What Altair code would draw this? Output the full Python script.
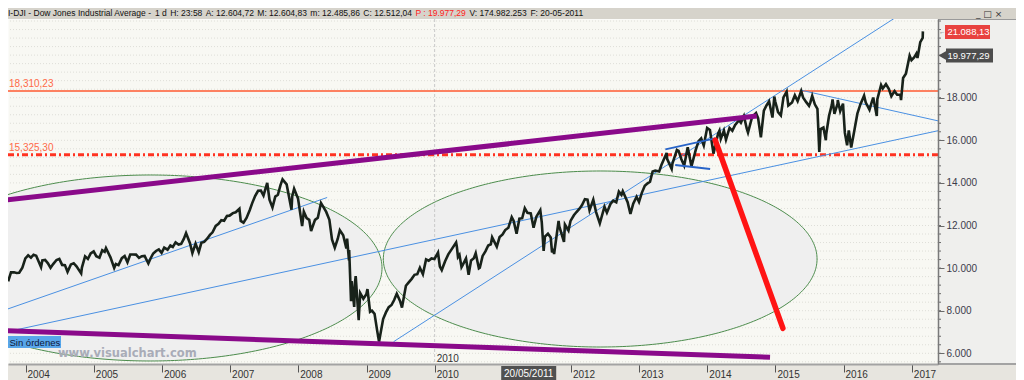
import altair as alt
import numpy as np
import pandas as pd

# ---------------- data ----------------
price_dates = [
    "2003-09-30", "2003-10-15", "2003-10-31", "2003-11-14", "2003-11-28", "2003-12-15", "2003-12-31",
    "2004-01-15", "2004-01-30", "2004-02-13", "2004-02-27", "2004-03-24", "2004-03-31", "2004-04-15", "2004-04-30",
    "2004-05-14", "2004-05-28", "2004-06-15", "2004-06-30", "2004-07-15", "2004-07-30", "2004-08-13", "2004-08-31",
    "2004-09-15", "2004-09-30", "2004-10-25", "2004-10-29", "2004-11-15", "2004-11-30", "2004-12-15", "2004-12-31",
    "2005-01-14", "2005-01-31", "2005-02-15", "2005-02-28", "2005-03-07", "2005-03-31", "2005-04-20", "2005-04-29",
    "2005-05-13", "2005-05-31", "2005-06-15", "2005-06-30", "2005-07-15", "2005-07-29", "2005-08-15", "2005-08-31",
    "2005-09-15", "2005-09-30", "2005-10-20", "2005-10-31", "2005-11-15", "2005-11-30", "2005-12-15", "2005-12-30",
    "2006-01-13", "2006-01-31", "2006-02-15", "2006-02-28", "2006-03-15", "2006-03-31", "2006-04-14", "2006-04-28",
    "2006-05-10", "2006-05-31", "2006-06-13", "2006-06-30", "2006-07-17", "2006-07-31", "2006-08-15", "2006-08-31",
    "2006-09-15", "2006-09-29", "2006-10-16", "2006-10-31", "2006-11-15", "2006-11-30", "2006-12-15", "2006-12-29",
    "2007-01-16", "2007-01-31", "2007-02-20", "2007-02-27", "2007-03-14", "2007-03-30", "2007-04-16", "2007-04-30",
    "2007-05-15", "2007-05-31", "2007-06-15", "2007-06-29", "2007-07-19", "2007-07-31", "2007-08-16", "2007-08-31",
    "2007-09-14", "2007-09-28", "2007-10-09", "2007-10-31", "2007-11-26", "2007-11-30", "2007-12-10", "2007-12-31",
    "2008-01-22", "2008-01-31", "2008-02-15", "2008-02-29", "2008-03-10", "2008-03-31", "2008-04-15", "2008-05-02",
    "2008-05-30", "2008-06-16", "2008-06-30", "2008-07-15", "2008-07-31", "2008-08-11", "2008-08-29", "2008-09-15",
    "2008-09-19", "2008-09-29", "2008-09-30", "2008-10-10", "2008-10-13", "2008-10-27", "2008-10-31", "2008-11-04",
    "2008-11-20", "2008-11-28", "2008-12-15", "2008-12-31",
    "2009-01-06", "2009-01-20", "2009-01-30", "2009-02-13", "2009-02-27", "2009-03-09", "2009-03-31", "2009-04-15",
    "2009-04-30", "2009-05-15", "2009-05-29", "2009-06-12", "2009-06-30", "2009-07-10", "2009-07-31", "2009-08-14",
    "2009-08-31", "2009-09-15", "2009-09-30", "2009-10-14", "2009-10-30", "2009-11-16", "2009-11-30", "2009-12-15",
    "2009-12-31",
    "2010-01-19", "2010-01-29", "2010-02-08", "2010-02-26", "2010-03-15", "2010-03-31", "2010-04-26", "2010-04-30",
    "2010-05-06", "2010-05-14", "2010-05-25", "2010-05-31", "2010-06-18", "2010-07-02", "2010-07-15", "2010-07-30",
    "2010-08-09", "2010-08-26", "2010-08-31", "2010-09-15", "2010-09-30", "2010-10-15", "2010-10-29", "2010-11-05",
    "2010-11-30", "2010-12-15", "2010-12-31",
    "2011-01-14", "2011-01-31", "2011-02-18", "2011-02-28", "2011-03-16", "2011-03-31", "2011-04-15", "2011-04-29",
    "2011-05-13", "2011-05-31", "2011-06-15", "2011-06-30", "2011-07-21", "2011-07-29", "2011-08-08", "2011-08-15",
    "2011-08-31", "2011-09-15", "2011-09-22", "2011-09-30", "2011-10-03", "2011-10-27", "2011-10-31", "2011-11-25",
    "2011-11-30", "2011-12-19", "2011-12-30",
    "2012-01-17", "2012-01-31", "2012-02-15", "2012-02-29", "2012-03-16", "2012-03-30", "2012-04-10", "2012-04-30",
    "2012-05-15", "2012-06-04", "2012-06-29", "2012-07-12", "2012-07-31", "2012-08-15", "2012-08-31", "2012-09-14",
    "2012-09-28", "2012-10-05", "2012-10-31", "2012-11-15", "2012-11-30", "2012-12-18", "2012-12-31",
    "2013-01-15", "2013-01-31", "2013-02-15", "2013-02-28", "2013-03-14", "2013-03-28", "2013-04-18", "2013-04-30",
    "2013-05-28", "2013-05-31", "2013-06-24", "2013-06-28", "2013-07-22", "2013-07-31", "2013-08-15", "2013-08-30",
    "2013-09-18", "2013-09-30", "2013-10-08", "2013-10-31", "2013-11-15", "2013-11-29", "2013-12-13", "2013-12-31",
    "2014-01-15", "2014-02-03", "2014-02-28", "2014-03-07", "2014-03-14", "2014-03-31", "2014-04-11", "2014-04-30",
    "2014-05-15", "2014-05-30", "2014-06-20", "2014-06-30", "2014-07-16", "2014-07-31", "2014-08-07", "2014-08-29",
    "2014-09-19", "2014-09-30", "2014-10-15", "2014-10-31", "2014-11-14", "2014-11-28", "2014-12-16", "2014-12-26",
    "2014-12-31",
    "2015-01-15", "2015-01-30", "2015-02-13", "2015-03-02", "2015-03-11", "2015-03-31", "2015-04-15", "2015-04-30",
    "2015-05-19", "2015-05-29", "2015-06-15", "2015-06-30", "2015-07-07", "2015-07-17", "2015-07-31", "2015-08-14",
    "2015-08-24", "2015-08-31", "2015-09-15", "2015-09-28", "2015-09-30", "2015-10-15", "2015-10-30", "2015-11-03",
    "2015-11-13", "2015-11-30", "2015-12-01", "2015-12-14", "2015-12-29", "2015-12-31",
    "2016-01-08", "2016-01-20", "2016-01-29", "2016-02-11", "2016-02-29", "2016-03-15", "2016-03-31", "2016-04-20",
    "2016-04-29", "2016-05-19", "2016-05-31", "2016-06-08", "2016-06-27", "2016-06-30", "2016-07-20", "2016-07-29",
    "2016-08-15", "2016-08-31", "2016-09-13", "2016-09-30", "2016-10-14", "2016-10-31", "2016-11-04", "2016-11-15",
    "2016-11-30", "2016-12-20", "2016-12-30",
    "2017-01-13", "2017-01-25", "2017-01-31", "2017-02-15", "2017-02-28", "2017-03-01",
]
price_values = [
    9380, 9800, 9801, 9770, 9782, 10020, 10454,
    10600, 10488, 10628, 10584, 10048, 10358, 10380, 10226,
    10012, 10188, 10380, 10435, 10150, 10140, 9825, 10174,
    10230, 10080, 9750, 10027, 10550, 10428, 10690, 10783,
    10558, 10490, 10837, 10766, 10940, 10504, 10012, 10193,
    10140, 10467, 10566, 10275, 10640, 10641, 10634, 10482,
    10558, 10569, 10215, 10440, 10686, 10806, 10881, 10718,
    10959, 10865, 11058, 10993, 11209, 11109, 11137, 11367,
    11642, 11168, 10706, 11150, 10747, 11186, 11230, 11381,
    11560, 11679, 11980, 12081, 12251, 12222, 12446, 12463,
    12582, 12622, 12786, 12216, 12133, 12354, 12720, 13063,
    13383, 13628, 13639, 13409, 14000, 13212, 12846, 13358,
    13442, 13896, 14164, 13930, 12743, 13372, 13727, 13265,
    11971, 12650, 12348, 12266, 11740, 12263, 12362, 13058,
    12638, 12269, 11350, 10963, 11378, 11782, 11544, 10917,
    11388, 10365, 10851, 8451, 9387, 8176, 9325, 9625,
    7552, 8829, 8565, 8776,
    9015, 7950, 8001, 7850, 7063, 6547, 7609, 7920,
    8168, 8268, 8500, 8799, 8447, 8146, 9172, 9321,
    9496, 9683, 9712, 10015, 9713, 10406, 10345, 10452,
    10428,
    10725, 10067, 9908, 10325, 10643, 10857, 11205, 11009,
    10520, 10620, 10043, 10137, 10450, 9686, 10360, 10466,
    10698, 9986, 10015, 10572, 10788, 11063, 11118, 11444,
    11006, 11457, 11578,
    11787, 11892, 12391, 12226, 11613, 12320, 12342, 12811,
    12596, 12570, 11897, 12414, 12724, 12143, 10810, 11482,
    11614, 11434, 10734, 10913, 10655, 12209, 11955, 11231,
    12046, 11766, 12218,
    12482, 12633, 12780, 12952, 13233, 13212, 12716, 13214,
    12632, 12101, 12880, 12604, 13009, 13164, 13091, 13593,
    13437, 13610, 13096, 12543, 13026, 13350, 13104,
    13534, 13861, 13981, 14054, 14539, 14579, 14537, 14840,
    15409, 15116, 14660, 14910, 15545, 15500, 15112, 14810,
    15677, 15130, 14776, 15546, 15962, 16086, 15755, 16577,
    16482, 15373, 16322, 16453, 16065, 16458, 16027, 16581,
    16447, 16717, 16947, 16827, 17138, 16563, 16368, 17098,
    17280, 17043, 16141, 17391, 17635, 17828, 17068, 18053,
    17823,
    17321, 17165, 18019, 18288, 17635, 17776, 18112, 17841,
    18312, 18011, 17791, 17620, 17776, 18086, 17690, 17477,
    15450, 16528, 16600, 16001, 16285, 17141, 17664, 17918,
    17245, 17720, 17888, 17368, 17720, 17425,
    16346, 15766, 16466, 15660, 16517, 17251, 17685, 18096,
    17774, 17435, 17787, 18005, 17140, 17930, 18595, 18432,
    18636, 18401, 18066, 18308, 18138, 18142, 17888, 18923,
    19124, 19974, 19763,
    19886, 20069, 19864, 20611, 20812, 21115,
]

level_values = [18310.23, 15325.30]
level_labels = ["18,310,23", "15,325,30"]

purple_start_dates = ["2003-08-17", "2003-08-17"]
purple_start_values = [13165, 7066]
purple_end_dates = ["2014-09-23", "2014-12-03"]
purple_end_values = [17141, 5812]

red_start_dates = ["2014-02-12"]
red_start_values = [16014]
red_end_dates = ["2015-02-10"]
red_end_values = [7174]

blue_start_dates = ["2003-08-17", "2003-08-17", "2009-05-26", "2015-05-13"]
blue_start_values = [7953, 6939, 6545, 18362]
blue_end_dates = ["2008-06-04", "2017-05-22", "2017-01-19", "2017-05-22"]
blue_end_values = [13315, 16451, 22362, 16911]

flag_start_dates = ["2013-05-21", "2013-07-13"]
flag_start_values = [15578, 14841]
flag_end_dates = ["2014-02-12", "2014-01-16"]
flag_end_values = [16094, 14653]

ellipse_center_dates = ["2005-10-30", "2012-06-06"]
ellipse_center_values = [10005, 10427]
ellipse_half_width_days = [1242, 1162]
ellipse_half_height = [4366, 4132]

divider_date = "2010-01-01"
cursor_date = "2011-05-20"
cursor_label = "20/05/2011"

tag_values = [21088.13, 19977.29]
tag_labels = ["21.088,13", "19.977,29"]

y_tick_values = [6000, 8000, 10000, 12000, 14000, 16000, 18000]
x_tick_years = [2004, 2005, 2006, 2007, 2008, 2009, 2010, 2012, 2013, 2014, 2015, 2016, 2017]

header_parts = ["I-DJI - Dow Jones Industrial Average -", "1 d", "H: 23:58", "A: 12.604,72",
                "M: 12.604,83", "m: 12.485,86", "C: 12.512,04", "P : 19.977,29",
                "V: 174.982.253", "F: 20-05-2011"]

# ---------------- layout ----------------
W, H = 930, 345
X0, X1 = pd.Timestamp("2003-09-29"), pd.Timestamp("2017-05-21")
Y0, Y1 = 5497.6, 21695.0
UPP = (Y1 - Y0) / H
DPP = (X1 - X0).days / W

NARROW = "Liberation Sans Narrow, Arial Narrow, Liberation Sans, sans-serif"

xscale = alt.Scale(domain=[alt.DateTime(year=2003, month=9, date=29),
                           alt.DateTime(year=2017, month=5, date=21)], nice=False)
yscale = alt.Scale(domain=[Y0, Y1], nice=False, zero=False)

xaxis = alt.Axis(values=[alt.DateTime(year=y, month=1, date=1) for y in x_tick_years],
                 format="%Y", title=None, grid=False, labelAlign="left", labelBaseline="top",
                 labelOffset=1.5, labelPadding=-3, tickSize=8, tickColor="#555555", tickWidth=1,
                 domainColor="#a3a3a3", domainWidth=2, labelFont=NARROW, labelFontSize=10,
                 labelColor="#333333", labelOverlap=False, labelFlush=False, zindex=1)
yaxis = alt.Axis(orient="right", values=y_tick_values,
                 labelExpr="replace(format(datum.value, ',d'), ',', '.')",
                 title=None, grid=False, tickSize=6, tickColor="#6a6a6a", domainColor="#7a7a7a",
                 domainWidth=1.5, labelPadding=2, labelFont=NARROW, labelFontSize=10,
                 labelColor="#3b3b4b", labelOverlap=False, labelFlush=False, zindex=1)


def X(f):
    return alt.X(f"{f}:T", scale=xscale, axis=xaxis)


def Y(f):
    return alt.Y(f"{f}:Q", scale=yscale, axis=yaxis)


def seg_df(sd, sv, ed, ev):
    rows = []
    for i, (a, b, c, d) in enumerate(zip(sd, sv, ed, ev)):
        rows.append({"seg": i, "date": pd.Timestamp(a), "v": b})
        rows.append({"seg": i, "date": pd.Timestamp(c), "v": d})
    return pd.DataFrame(rows)


def seg_layer(df, color, width, cap="butt"):
    return alt.Chart(df).mark_line(color=color, strokeWidth=width, strokeCap=cap, clip=True).encode(
        x=X("date"), y=Y("v"), detail="seg:N")


dummy = pd.DataFrame({"k": [0]})


def box(x1, x2, y1, y2, color):
    return alt.Chart(dummy).mark_rect(color=color).encode(
        x=alt.value(x1), x2=alt.value(x2), y=alt.value(y1), y2=alt.value(y2))


def label(txt, x, y, size=10, color="#222222", font=NARROW, align="left", weight="normal",
          baseline="alphabetic"):
    return alt.Chart(dummy).mark_text(text=txt, align=align, baseline=baseline, font=font,
                                      fontSize=size, color=color, fontWeight=weight).encode(
        x=alt.value(x), y=alt.value(y))


# price
price = pd.DataFrame({"date": pd.to_datetime(price_dates), "v": price_values})

# grid rows
grid_vals = [v for v in range(5600, 21700, 400) if Y0 <= v <= Y1]
grid_df = pd.DataFrame({"v": grid_vals})

# ellipses
t = np.linspace(0, np.pi, 181)
ell_rows = []
for i, (cd, cv, rx, ry) in enumerate(zip(ellipse_center_dates, ellipse_center_values,
                                         ellipse_half_width_days, ellipse_half_height)):
    c = pd.Timestamp(cd)
    for tt in t:
        ell_rows.append({"e": i, "date": c + pd.Timedelta(days=float(rx * np.cos(tt))),
                         "up": cv + ry * np.sin(tt), "lo": cv - ry * np.sin(tt)})
ell_df = pd.DataFrame(ell_rows)

levels = pd.DataFrame({"v": level_values, "label": level_labels})

tags = pd.DataFrame({"v": tag_values, "label": tag_labels})
tags["lo"] = tags["v"] - 7 * UPP
tags["hi"] = tags["v"] + 7 * UPP

cursor_half_days = 27.5 * DPP
cursor = pd.DataFrame({"date": [pd.Timestamp(cursor_date)],
                       "start": [pd.Timestamp(cursor_date) - pd.Timedelta(days=cursor_half_days)],
                       "end": [pd.Timestamp(cursor_date) + pd.Timedelta(days=cursor_half_days)],
                       "label": [cursor_label]})
divider = pd.DataFrame({"date": [pd.Timestamp(divider_date)], "label": ["2010"]})

layers = []
# plot content
layers.append(alt.Chart(grid_df).mark_rule(color="#deded8", strokeDash=[1, 2], strokeWidth=1).encode(y=Y("v")))
layers.append(alt.Chart(ell_df).mark_area(fill="#efefef", stroke="#4c8c4c", strokeWidth=1, clip=True).encode(
    x=X("date"), y=Y("up"), y2="lo:Q", detail="e:N"))
layers.append(alt.Chart(divider).mark_rule(color="#c9c9c9", strokeDash=[3, 2], strokeWidth=1).encode(x=X("date")))
layers.append(alt.Chart(levels.iloc[[0]]).mark_rule(color="#ff5a30", strokeWidth=1.5).encode(y=Y("v")))
layers.append(alt.Chart(levels.iloc[[1]]).mark_rule(color="#ff3322", strokeWidth=3,
                                                    strokeDash=[6, 3, 2, 3]).encode(y=Y("v")))
layers.append(seg_layer(seg_df(blue_start_dates, blue_start_values, blue_end_dates, blue_end_values),
                        "#4a90e2", 1))
layers.append(alt.Chart(price).mark_line(color="#18221a", strokeWidth=2.6).encode(x=X("date"), y=Y("v")))
layers.append(seg_layer(seg_df(flag_start_dates, flag_start_values, flag_end_dates, flag_end_values),
                        "#2864c8", 1.8))
layers.append(seg_layer(seg_df(purple_start_dates, purple_start_values, purple_end_dates, purple_end_values),
                        "#8a0a8a", 5))
layers.append(seg_layer(seg_df(red_start_dates, red_start_values, red_end_dates, red_end_values),
                        "#ff1414", 5.5, cap="round"))
layers.append(alt.Chart(levels).mark_text(align="left", baseline="alphabetic", dx=1, dy=-4, font=NARROW,
                                          fontSize=10, color="#ff6a48").encode(
    x=alt.value(0), y=Y("v"), text="label:N"))
layers.append(alt.Chart(divider).mark_text(align="left", baseline="alphabetic", dx=2, font=NARROW,
                                           fontSize=10, color="#333333").encode(
    x=X("date"), y=alt.value(H - 2), text="label:N"))

# watermark and status box
layers.append(box(-1, 53, 317, 329, "#58a6ea"))
layers.append(label("Sin órdenes", 1.5, 326.5, size=9.5, color="#101838"))
layers.append(label("www.visualchart.com", 50, 338, size=11.5, color="#a9acb8", font="DejaVu Sans",
                    weight="bold"))

# frames outside the plot
layers.append(box(W, W + 80, 0, H, "#efefed"))
layers.append(alt.Chart(dummy).mark_rule(color="#9a9a9a", strokeWidth=1).encode(
    x=alt.value(W), x2=alt.value(W + 80), y=alt.value(0.5)))
layers.append(box(-2, W + 80, H, H + 17, "#e7e5df"))
layers.append(alt.Chart(dummy).mark_rule(color="#a3a3a3", strokeWidth=2).encode(
    x=alt.value(W), x2=alt.value(W + 80), y=alt.value(H)))
layers.append(box(-2, W + 80, -12, 0, "#d6d3cb"))

# minor ticks on price axis
minor_df = pd.DataFrame({"v": [v for v in range(5600, 21700, 400) if Y0 <= v <= Y1]})
layers.append(alt.Chart(minor_df).mark_rule(color="#6a6a6a", strokeWidth=1).encode(
    x=alt.value(W), x2=alt.value(W + 3), y=Y("v")))

# price tags
layers.append(alt.Chart(tags.iloc[[0]]).mark_rect(color="#e8423f").encode(
    x=alt.value(W + 7), x2=alt.value(W + 52), y=Y("lo"), y2="hi:Q"))
layers.append(alt.Chart(tags.iloc[[0]]).mark_text(text="←", align="left", baseline="middle", fontSize=6.5,
                                                  color="#666666").encode(x=alt.value(W + 1), y=Y("v")))
layers.append(alt.Chart(tags.iloc[[1]]).mark_rect(color="#4d4d4d").encode(
    x=alt.value(W + 8), x2=alt.value(W + 55), y=Y("lo"), y2="hi:Q"))
layers.append(alt.Chart(tags.iloc[[1]]).mark_point(shape="triangle-left", filled=True, size=110, opacity=1,
                                                   color="#4d4d4d").encode(x=alt.value(W + 5), y=Y("v")))
layers.append(alt.Chart(tags).mark_text(align="center", baseline="middle", font=NARROW, fontSize=9.5,
                                        color="#ffffff").encode(
    x=alt.value(W + 30.5), y=Y("v"), text="label:N"))

# cursor date label on the time axis
layers.append(alt.Chart(cursor).mark_rect(color="#505050").encode(
    x=X("start"), x2="end:T", y=alt.value(H + 2), y2=alt.value(H + 17)))
layers.append(alt.Chart(cursor).mark_text(align="center", baseline="middle", font=NARROW, fontSize=10,
                                          color="#ffffff").encode(
    x=X("date"), y=alt.value(H + 9.5), text="label:N"))

# header text
header_x = [0, 147.0, 162.2, 197.7, 249.3, 302.3, 355.3, 407.4, 461.4, 522.4]
for part, hx in zip(header_parts, header_x):
    col = "#ff2020" if part.startswith("P :") else "#111111"
    layers.append(label(part, hx, -3, size=8.5, color=col))
layers.append(label("_ □ ×", 968, -2.5, size=9, color="#333333", font="DejaVu Sans"))

chart = alt.layer(*layers).properties(
    width=W, height=H,
    padding={"left": 0, "top": 11, "right": 78, "bottom": 16},
    autosize=alt.AutoSizeParams(type="none"),
    background="#ffffff",
).configure_view(fill="#f8f8f3", stroke="transparent")

chart.save("out.html", embed_options={"renderer": "svg", "actions": False})
